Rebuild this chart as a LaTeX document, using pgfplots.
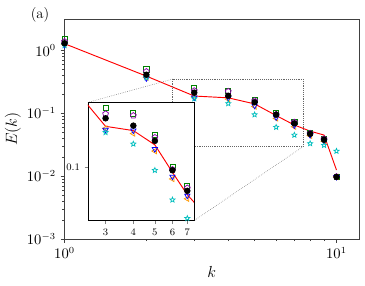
\documentclass[border=0pt]{standalone}
\usepackage{pgfplots}
\pgfplotsset{compat=1.18}
\usepackage{pgfplotstable}
\usetikzlibrary{plotmarks}

\pgfdeclareplotmark{ostar}{%
  \pgfpathmoveto{\pgfpointpolar{90}{\pgfplotmarksize}}%
  \pgfpathlineto{\pgfpointpolar{126}{0.45\pgfplotmarksize}}%
  \pgfpathlineto{\pgfpointpolar{162}{\pgfplotmarksize}}%
  \pgfpathlineto{\pgfpointpolar{198}{0.45\pgfplotmarksize}}%
  \pgfpathlineto{\pgfpointpolar{234}{\pgfplotmarksize}}%
  \pgfpathlineto{\pgfpointpolar{270}{0.45\pgfplotmarksize}}%
  \pgfpathlineto{\pgfpointpolar{306}{\pgfplotmarksize}}%
  \pgfpathlineto{\pgfpointpolar{342}{0.45\pgfplotmarksize}}%
  \pgfpathlineto{\pgfpointpolar{18}{\pgfplotmarksize}}%
  \pgfpathlineto{\pgfpointpolar{54}{0.45\pgfplotmarksize}}%
  \pgfpathclose\pgfusepathqstroke}

\definecolor{mgreen}{RGB}{0,128,0}
\definecolor{mpurple}{RGB}{140,0,170}
\definecolor{mblue}{RGB}{0,0,255}
\definecolor{morange}{RGB}{255,153,0}
\definecolor{mcyan}{RGB}{0,190,190}

\pgfplotstableread{
k green purple black orange blue cyan red
1 1.50 1.38 1.30 1.25 1.22 1.20 1.28
2 0.50 0.46 0.41 0.37 0.36 0.37 0.39
3 0.250 0.228 0.213 0.182 0.178 0.171 0.188
4 0.230 0.222 0.190 0.168 0.176 0.143 0.176
5 0.165 0.158 0.150 0.128 0.132 0.095 0.141
6 0.100 0.096 0.095 0.083 0.086 0.060 0.092
7 0.074 0.072 0.069 0.061 0.064 0.045 0.065
8 0.049 0.048 0.047 0.044 0.045 0.033 0.052
9 0.039 0.039 0.038 0.036 0.036 0.031 0.045
10 0.0098 0.0098 0.0097 0.0097 0.0097 0.025 0.0125
}\data

\newcommand\plotall{%
\addplot[only marks, mgreen, mark=square, mark size=1.9pt, line width=0.55pt] table[x=k,y=green]{\data};
\addplot[only marks, mpurple, mark=pentagon, mark size=2.3pt, line width=0.55pt] table[x=k,y=purple]{\data};
\addplot[only marks, morange, mark=triangle, mark size=2.3pt, line width=0.55pt, mark options={rotate=90}] table[x=k,y=orange]{\data};
\addplot[only marks, mblue, mark=triangle, mark size=2.3pt, line width=0.55pt, mark options={rotate=180}] table[x=k,y=blue]{\data};
\addplot[only marks, mcyan, mark=ostar, mark size=2.0pt, line width=0.55pt] table[x=k,y=cyan]{\data};
\addplot[only marks, black, mark=*, mark size=2.2pt] table[x=k,y=black]{\data};
\addplot[red, no marks, line width=0.7pt] table[x=k,y=red]{\data};
}

\begin{document}
\begin{tikzpicture}
\begin{axis}[name=main, at={(0,0)}, anchor=south west, scale only axis,
  width=220.9pt, height=165pt,
  xmode=log, ymode=log, xmin=1, xmax=12.1, ymin=1e-3, ymax=3.162,
  xtick={1,10}, ytick={1e-3,1e-2,1e-1,1},
  tick align=outside, xtick pos=bottom, ytick pos=left,
  major tick length=3pt, minor tick length=1.6pt,
  axis line style={black!75}, every tick/.style={black!75},
  tick label style={font=\fontsize{10.5}{12}\selectfont},
  xlabel={$k$}, ylabel={$E(k)$},
  label style={font=\fontsize{12}{14}\selectfont},
  xlabel style={at={(axis description cs:0.5,-0.1485)}, anchor=center},
  ylabel style={at={(axis description cs:-0.175,0.5)}, anchor=center},
]
\plotall
\draw[densely dotted, black!60] (axis cs:2.5,0.0296) rectangle (axis cs:7.55,0.35);
\coordinate (rTL) at (axis cs:2.5,0.35);
\coordinate (rBR) at (axis cs:7.55,0.0296);
\end{axis}
\begin{axis}[name=inset, at={(17.6pt,13.7pt)}, anchor=south west, scale only axis,
  width=79.5pt, height=88.8pt,
  xmode=log, ymode=log, xmin=2.5, xmax=7.5, ymin=0.0434, ymax=0.273,
  xtick={3,4,5,6,7}, xticklabels={3,4,5,6,7},
  ytick={0.1}, yticklabels={0.1},
  minor xtick={}, minor ytick={},
  axis background/.style={fill=white},
  tick align=outside, xtick pos=bottom, ytick pos=left,
  major tick length=2.5pt,
  tick label style={font=\fontsize{7.5}{9}\selectfont},
]
\plotall
\end{axis}
\draw[densely dotted, black!60] (rTL) -- (inset.north west);
\draw[densely dotted, black!60] (rBR) -- (inset.south east);
\node[font=\fontsize{11}{13}\selectfont] at (-18.4pt,168pt) {(a)};
\pgfresetboundingbox
\useasboundingbox (-48.4pt,-35.25pt) rectangle (225.4pt,179.25pt);
\end{tikzpicture}
\end{document}
